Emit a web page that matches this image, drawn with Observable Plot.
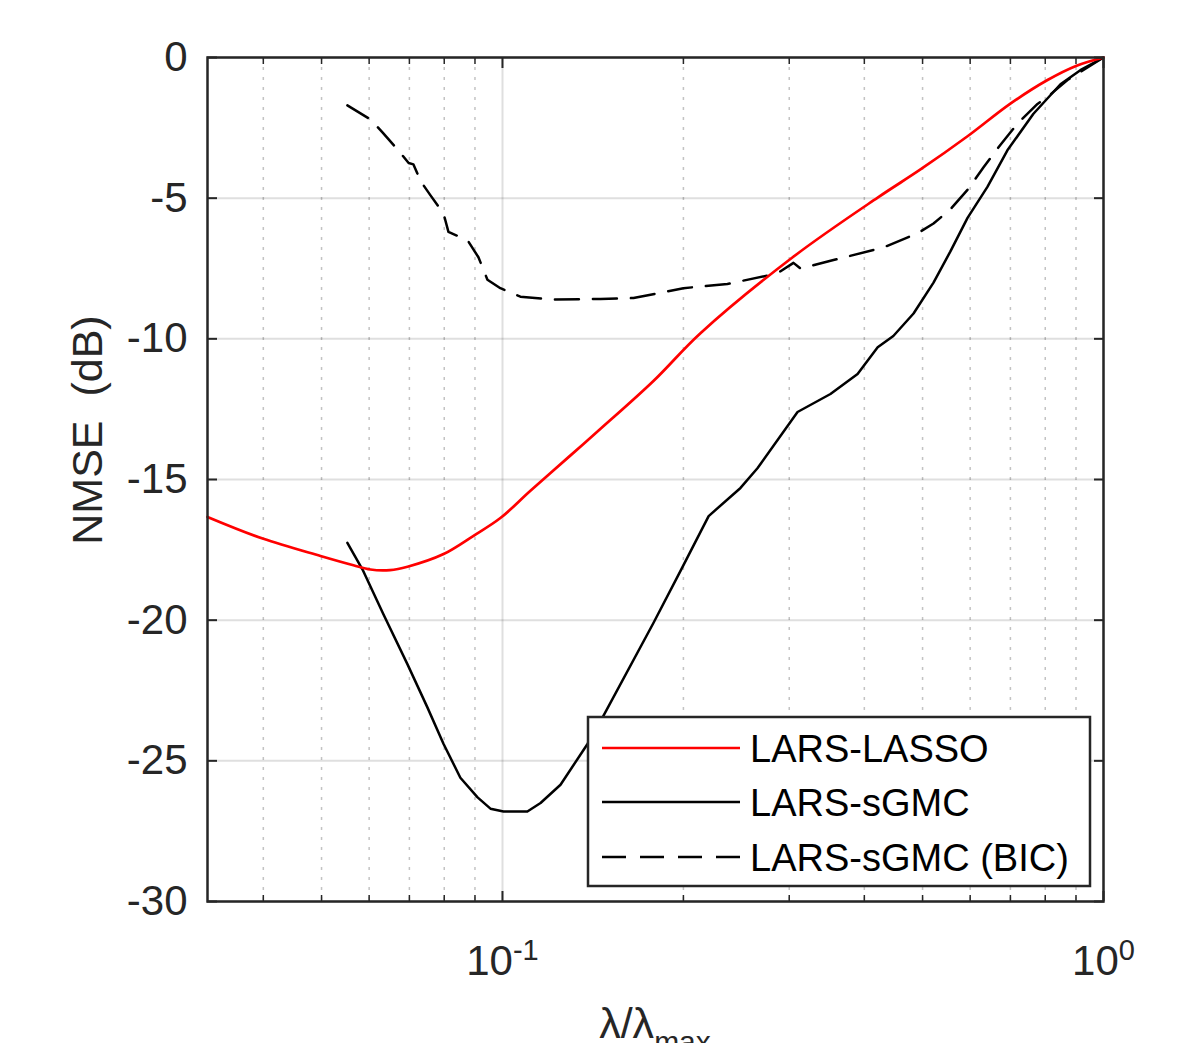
<!DOCTYPE html>
<html><head><meta charset="utf-8">
<script src="https://cdn.jsdelivr.net/npm/d3@7"></script>
<script src="https://cdn.jsdelivr.net/npm/@observablehq/plot@0.6"></script>
<style>
body{margin:0;background:#fff;}
#wrap{position:relative;width:1184px;height:1043px;overflow:hidden;}
</style></head><body><div id="wrap"></div>
<script>
// ---- data ----
const lassoLambda = [0.0323, 0.0399, 0.0498, 0.0565, 0.0603, 0.0650, 0.0695, 0.0798, 0.0895, 0.0992, 0.1113, 0.1295, 0.1456, 0.1783, 0.2135, 0.304, 0.421, 0.496, 0.594, 0.700, 0.807, 0.90, 1];
const lassoNmse   = [-16.33, -17.1, -17.72, -18.05, -18.2, -18.22, -18.1, -17.65, -17.0, -16.37, -15.4, -14.16, -13.2, -11.5, -9.8, -7.1, -4.98, -3.98, -2.8, -1.64, -0.8, -0.3, 0];

const sgmcLambda = [0.0552, 0.0585, 0.0634, 0.0695, 0.075, 0.0798, 0.0851, 0.0909, 0.0955, 0.1004, 0.110, 0.1157, 0.1249, 0.1385, 0.1472, 0.1783, 0.1978, 0.2203, 0.2489, 0.2656, 0.3097, 0.3513, 0.3898, 0.421, 0.447, 0.483, 0.5214, 0.556, 0.594, 0.641, 0.692, 0.7646, 0.848, 0.915, 1];
const sgmcNmse   = [-17.25, -18.2, -19.8, -21.57, -23.1, -24.4, -25.6, -26.3, -26.7, -26.8, -26.8, -26.5, -25.85, -24.4, -23.4, -20.1, -18.25, -16.3, -15.3, -14.6, -12.6, -11.96, -11.25, -10.3, -9.9, -9.1, -8.0, -6.9, -5.7, -4.6, -3.3, -2.0, -0.95, -0.45, 0];

const bicLambda = [0.0552, 0.0603, 0.0632, 0.0671, 0.0698, 0.0711, 0.0731, 0.0759, 0.0798, 0.0813, 0.0875, 0.0912, 0.0944, 0.0992, 0.1071, 0.1202, 0.1456, 0.1652, 0.2000, 0.2367, 0.276, 0.2902, 0.3049, 0.3132, 0.3554, 0.4305, 0.4903, 0.5214, 0.556, 0.594, 0.6316, 0.674, 0.7193, 0.7766, 0.807, 0.871, 1];
const bicNmse   = [-1.7, -2.2, -2.67, -3.3, -3.75, -3.8, -4.4, -4.9, -5.55, -6.2, -6.5, -7.1, -7.9, -8.2, -8.5, -8.6, -8.58, -8.55, -8.2, -8.05, -7.75, -7.6, -7.3, -7.5, -7.2, -6.75, -6.25, -5.9, -5.4, -4.7, -3.9, -3.1, -2.35, -1.65, -1.4, -0.8, 0];

const seriesNames = ["LARS-LASSO", "LARS-sGMC", "LARS-sGMC (BIC)"];
const yTicks = [0, -5, -10, -15, -20, -25, -30];
const xMajor = [0.1, 1];
const xMajorBase = ["10", "10"];
const xMajorExp = ["-1", "0"];
const xMinor = [0.04, 0.05, 0.06, 0.07, 0.08, 0.09, 0.2, 0.3, 0.4, 0.5, 0.6, 0.7, 0.8, 0.9];
const yLabel = "NMSE  (dB)";
const xLabelMain = "λ/λ";
const xLabelSub = "max";

// ---- build ----
const FONT = "'Liberation Sans', Arial, Helvetica, sans-serif";
const INK = "#262626";
const toRows = (xs, ys) => xs.map((x, i) => ({x, y: ys[i]}));
const lasso = toRows(lassoLambda, lassoNmse);
const sgmc = toRows(sgmcLambda, sgmcNmse);
const bic = toRows(bicLambda, bicNmse);
const xFmt = d => { const i = xMajor.indexOf(d); return xMajorBase[i] + "^" + xMajorExp[i]; };

const chart = Plot.plot({
  width: 1184, height: 1043,
  marginTop: 57, marginBottom: 142, marginLeft: 207, marginRight: 81,
  x: {type: "log", domain: [0.0323, 1]},
  y: {domain: [-30, 0]},
  style: {fontFamily: FONT, background: "white", color: INK, overflow: "hidden"},
  marks: [
    Plot.gridX(xMinor, {stroke: INK, strokeOpacity: 0.28, strokeWidth: 1.5, strokeDasharray: "3,7"}),
    Plot.gridX(xMajor, {stroke: INK, strokeOpacity: 0.15, strokeWidth: 2}),
    Plot.gridY(yTicks, {stroke: INK, strokeOpacity: 0.15, strokeWidth: 2}),
    Plot.line(bic, {x: "x", y: "y", stroke: "#000", strokeWidth: 2.5, strokeDasharray: "24,14"}),
    Plot.line(sgmc, {x: "x", y: "y", stroke: "#000", strokeWidth: 2.5}),
    Plot.line(lasso, {x: "x", y: "y", stroke: "#ff0000", strokeWidth: 2.7, curve: "catmull-rom"}),
    // ticks (inward)
    Plot.axisX(xMinor, {anchor: "bottom", tickSize: -6, tickFormat: () => "", stroke: INK, strokeWidth: 1.5, label: null}),
    Plot.axisX(xMinor, {anchor: "top", tickSize: -6, tickFormat: () => "", stroke: INK, strokeWidth: 1.5, label: null}),
    Plot.axisX(xMajor, {anchor: "top", tickSize: -10, tickFormat: () => "", stroke: INK, strokeWidth: 2, label: null}),
    Plot.axisX(xMajor, {anchor: "bottom", tickSize: -10, tickFormat: () => "", stroke: INK, strokeWidth: 2, label: null}),
    Plot.axisY(yTicks, {anchor: "right", tickSize: -10, tickFormat: () => "", stroke: INK, strokeWidth: 2, label: null}),
    Plot.axisY(yTicks, {anchor: "left", tickSize: -10, tickFormat: () => "", stroke: INK, strokeWidth: 2, label: null}),
    // labels
    Plot.axisY(yTicks, {anchor: "left", tickSize: 0, tickPadding: 20, tickFormat: d => String(d), fontSize: 42, fill: INK, label: null}),
    Plot.axisX(xMajor, {anchor: "bottom", tickSize: 0, tickPadding: 44, tickFormat: xFmt, fontSize: 42, fill: INK, label: null}),
    Plot.frame({stroke: INK, strokeWidth: 2.5})
  ]
});

document.getElementById("wrap").appendChild(chart);
const svg = d3.select(chart);

// superscripts on x tick labels
svg.selectAll("text").each(function() {
  const t = this.textContent;
  if (t.includes("^")) {
    const [b, e] = t.split("^");
    const sel = d3.select(this);
    sel.text(null);
    sel.append("tspan").text(b);
    sel.append("tspan").attr("font-size", 29).attr("dy", "-15").text(e);
  }
});

// axis titles
svg.append("text")
  .attr("transform", "translate(102,430) rotate(-90)")
  .attr("text-anchor", "middle")
  .attr("font-family", FONT).attr("font-size", 43).attr("fill", INK)
  .style("white-space", "pre")
  .text(yLabel);

const xl = svg.append("text")
  .attr("x", 655).attr("y", 1038)
  .attr("text-anchor", "middle")
  .attr("font-family", FONT).attr("font-size", 43).attr("fill", INK);
xl.append("tspan").text(xLabelMain);
xl.append("tspan").attr("font-size", 30).attr("dy", 14).text(xLabelSub);

// legend
const lg = svg.append("g").attr("font-family", FONT).attr("text-anchor", "start");
lg.append("rect").attr("x", 588).attr("y", 717).attr("width", 502).attr("height", 169)
  .attr("fill", "white").attr("stroke", INK).attr("stroke-width", 2.5);
const styles = [
  {stroke: "#ff0000", w: 2.7, dash: null},
  {stroke: "#000", w: 2.5, dash: null},
  {stroke: "#000", w: 2.5, dash: "24,14"}
];
const rowsY = [748, 802, 857];
seriesNames.forEach((name, i) => {
  const l = lg.append("line").attr("x1", 602).attr("x2", 740).attr("y1", rowsY[i]).attr("y2", rowsY[i])
    .attr("stroke", styles[i].stroke).attr("stroke-width", styles[i].w);
  if (styles[i].dash) l.attr("stroke-dasharray", styles[i].dash);
  lg.append("text").attr("x", 750).attr("y", rowsY[i]).attr("dy", "0.36em")
    .attr("text-anchor", "start")
    .attr("font-size", 38).attr("fill", "#000").text(name);
});
</script></body></html>
